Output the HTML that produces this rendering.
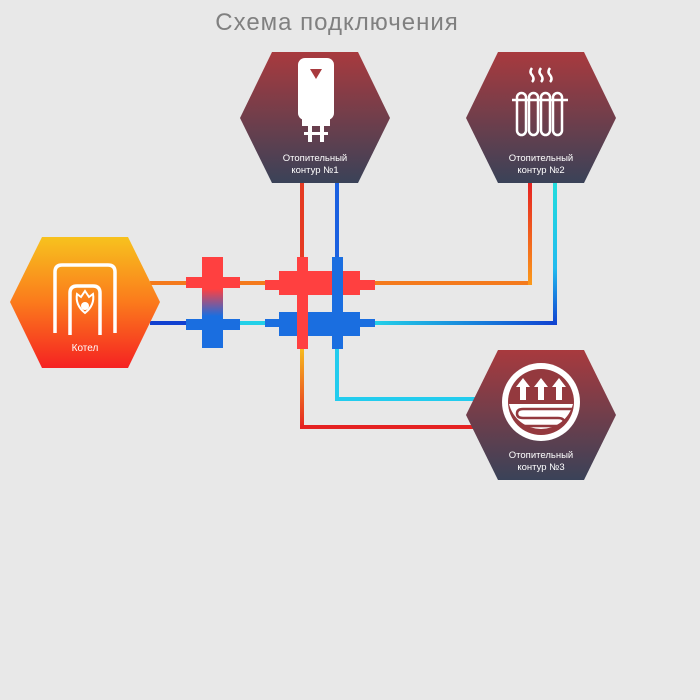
<!DOCTYPE html>
<html><head><meta charset="utf-8"><style>
html,body{margin:0;padding:0;background:#e8e8e8;}
svg{display:block;}
text{font-family:"Liberation Sans",sans-serif;}
</style></head><body>
<svg width="700" height="700" viewBox="0 0 700 700" xmlns="http://www.w3.org/2000/svg">
<defs>
<linearGradient id="hx" x1="0" y1="0" x2="0" y2="1"><stop offset="0" stop-color="#a83a3e"/><stop offset="1" stop-color="#3a4258"/></linearGradient>
<linearGradient id="kt" x1="0" y1="0" x2="0" y2="1"><stop offset="0" stop-color="#f7c21e"/><stop offset="0.5" stop-color="#fb7a1c"/><stop offset="1" stop-color="#f52222"/></linearGradient>
<linearGradient id="v2r" x1="0" y1="0" x2="0" y2="1"><stop offset="0" stop-color="#e52222"/><stop offset="1" stop-color="#fb9a1a"/></linearGradient>
<linearGradient id="v2b" x1="0" y1="0" x2="0" y2="1"><stop offset="0" stop-color="#22dddd"/><stop offset="0.6" stop-color="#22bbee"/><stop offset="1" stop-color="#1040d0"/></linearGradient>
<linearGradient id="hb" x1="0" y1="0" x2="1" y2="0"><stop offset="0" stop-color="#22d0e8"/><stop offset="1" stop-color="#1040d0"/></linearGradient>
<linearGradient id="v1r" x1="0" y1="0" x2="0" y2="1"><stop offset="0" stop-color="#f7c21e"/><stop offset="1" stop-color="#e52222"/></linearGradient>
<linearGradient id="mx" x1="0" y1="0" x2="0" y2="1"><stop offset="0.35" stop-color="#ff4040"/><stop offset="0.65" stop-color="#1a6ee0"/></linearGradient>
</defs>
<text x="337" y="30" text-anchor="middle" font-size="24" fill="#808080" letter-spacing="1" font-family="DejaVu Sans Condensed, Liberation Sans, sans-serif">Схема подключения</text>

<!-- pipes -->
<rect x="150" y="281" width="382" height="4" fill="#f47a1c"/>
<rect x="528" y="183" width="4" height="102" fill="url(#v2r)"/>
<rect x="150" y="321" width="36" height="4" fill="#1040d0"/>
<rect x="186" y="321" width="189" height="4" fill="#22d0e8"/>
<rect x="375" y="321" width="182" height="4" fill="url(#hb)"/>
<rect x="553" y="183" width="4" height="142" fill="url(#v2b)"/>
<rect x="300" y="183" width="4" height="77" fill="#e53a22"/>
<rect x="335" y="183" width="4" height="77" fill="#1a60e0"/>
<rect x="300" y="345" width="4" height="84" fill="url(#v1r)"/>
<rect x="300" y="425" width="180" height="4" fill="#e52222"/>
<rect x="335" y="345" width="4" height="56" fill="#22ccee"/>
<rect x="335" y="397" width="145" height="4" fill="#22ccee"/>

<!-- left cross -->
<rect x="202" y="257" width="21" height="91" fill="url(#mx)"/>
<rect x="186" y="277" width="54" height="11" fill="#ff4040"/>
<rect x="186" y="319" width="54" height="11" fill="#1a6ee0"/>
<rect x="202" y="257" width="21" height="20" fill="#ff4040"/>
<rect x="202" y="330" width="21" height="18" fill="#1a6ee0"/>

<!-- right manifolds -->
<path d="M265 280 H279 V271 H360 V280 H375 V290 H360 V295 H279 V290 H265Z" fill="#ff4040"/>
<path d="M265 319 H279 V312 H360 V319 H375 V327 H360 V336 H279 V327 H265Z" fill="#1a6ee0"/>
<rect x="297" y="257" width="11" height="92" fill="#ff4040"/>
<rect x="332" y="257" width="11" height="92" fill="#1a6ee0"/>

<!-- Kotel hex -->
<polygon points="10,302 42,237 128,237 160,302 128,368 42,368" fill="url(#kt)"/>
<path d="M55 333 V272 Q55 265 62 265 H108 Q115 265 115 272 V333" fill="none" stroke="#fff" stroke-width="3.5"/>
<path d="M70 335 V293 Q70 286 77 286 H93 Q100 286 100 293 V335" fill="none" stroke="#fff" stroke-width="3.5"/>
<path d="M85 291 L89 297 L93 294 Q95 305 85 313 Q75 305 77 294 L81 297Z" fill="none" stroke="#fff" stroke-width="2"/>
<circle cx="85" cy="306" r="4" fill="#fff"/>
<text x="85" y="351" text-anchor="middle" font-size="10" fill="#fff">Котел</text>

<!-- hex 1 -->
<polygon points="240,118 272,52 358,52 390,118 358,183 272,183" fill="url(#hx)"/>
<rect x="298" y="58" width="36" height="62" rx="7" fill="#fff"/>
<rect x="302" y="118" width="28" height="8" fill="#fff"/>
<rect x="308" y="124" width="4" height="18" fill="#fff"/>
<rect x="320" y="124" width="4" height="18" fill="#fff"/>
<rect x="304" y="132" width="24" height="3" fill="#fff"/>
<path d="M310 69 H322 L316 79Z" fill="#a83a3e"/>
<text x="315" y="161" text-anchor="middle" font-size="9.5" fill="#fff">Отопительный</text>
<text x="315" y="173" text-anchor="middle" font-size="9.5" fill="#fff">контур  №1</text>

<!-- hex 2 -->
<polygon points="466,118 498,52 584,52 616,118 584,183 498,183" fill="url(#hx)"/>
<g fill="none" stroke="#fff" stroke-width="2.5">
<path d="M532 68 q-3 4 0 7 q3 4 0 7 M541 68 q-3 4 0 7 q3 4 0 7 M550 68 q-3 4 0 7 q3 4 0 7"/>
<path d="M512 100 H568"/>
<rect x="517" y="93" width="9" height="42" rx="4.5"/>
<rect x="529" y="93" width="9" height="42" rx="4.5"/>
<rect x="541" y="93" width="9" height="42" rx="4.5"/>
<rect x="553" y="93" width="9" height="42" rx="4.5"/>
</g>
<text x="541" y="161" text-anchor="middle" font-size="9.5" fill="#fff">Отопительный</text>
<text x="541" y="173" text-anchor="middle" font-size="9.5" fill="#fff">контур  №2</text>

<!-- hex 3 -->
<polygon points="466,415 498,350 584,350 616,415 584,480 498,480" fill="url(#hx)"/>
<circle cx="541" cy="402" r="39" fill="#fff"/>
<circle cx="541" cy="402" r="33" fill="#94393e"/>
<path d="M509 404 H573 A33 33 0 0 1 509 404Z" fill="#fff"/>
<g fill="#fff">
<path d="M520 400 V387 H516 L523 378 L530 387 H526 V400Z"/>
<path d="M538 400 V387 H534 L541 378 L548 387 H544 V400Z"/>
<path d="M556 400 V387 H552 L559 378 L566 387 H562 V400Z"/>
</g>
<path d="M572 409 H523 Q517 409 517 413.5 Q517 418 523 418 H558 Q564 418 564 422 Q564 426 558 426 H520" fill="none" stroke="#94393e" stroke-width="2.5"/>
<text x="541" y="458" text-anchor="middle" font-size="9.5" fill="#fff">Отопительный</text>
<text x="541" y="470" text-anchor="middle" font-size="9.5" fill="#fff">контур  №3</text>
</svg>
</body></html>
